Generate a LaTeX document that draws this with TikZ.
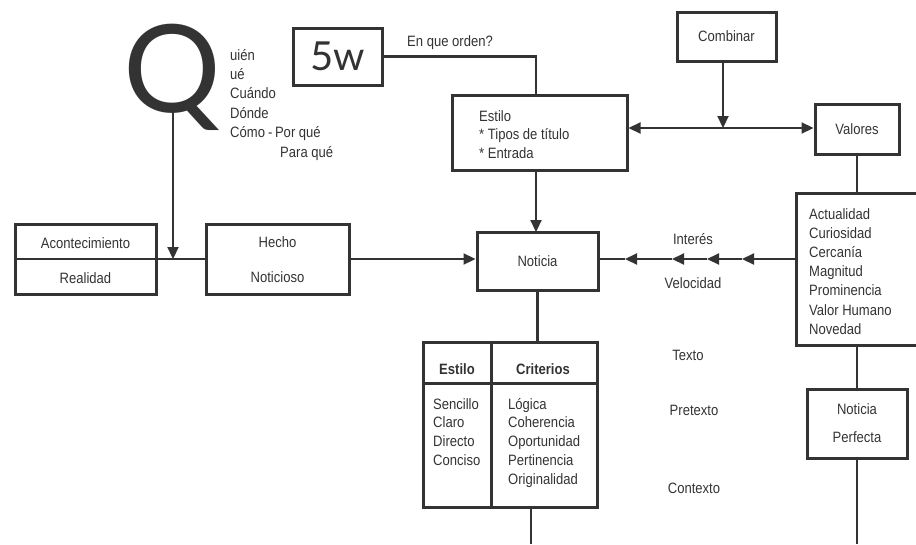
\documentclass[tikz,border=0pt]{standalone}
\usepackage{fontspec}
\setmainfont{Liberation Sans}[FakeStretch=0.87]
\newfontfamily\qfont{Lato}
\usetikzlibrary{arrows.meta}
\definecolor{dk}{RGB}{51,51,51}
\tikzset{
  box/.style={draw=dk, line width=3pt, inner sep=0pt},
  ln/.style={draw=dk, line width=2.2pt},
  arr/.style={ln, -{Triangle[length=12pt,width=11pt]}},
  txt/.style={text=dk, inner sep=0pt, font=\fontsize{15}{19}\selectfont},
}
\begin{document}
\begin{tikzpicture}[x=1pt,y=-1pt]
\useasboundingbox (0,0) rectangle (916,544);
% Q and question list
\node[text=dk, inner sep=0pt, anchor=base, font=\qfont\fontsize{122}{122}\selectfont] (Q) at (172,112) {Q};
\coordinate (qb) at (173,112);
\foreach \t [count=\i] in {uién,ué,Cuándo,Dónde,Cómo}
  \node[txt, anchor=base west] (q\i) at (230,{60+(\i-1)*19.4}) {\t};
\node[txt, anchor=base west] (pq) at (268,137.6) {-\,Por qué};
\node[txt, anchor=base west] (paq) at (280,157) {Para qué};
% 5w
\node[box, minimum width=89pt, minimum height=57pt, text=dk, font=\qfont\fontsize{40}{40}\selectfont] (fivew) at (337.5,56.5) {5w};
\node[txt] (orden) at (450,43) {En que orden?};
% Estilo box
\node[box, minimum width=175pt, minimum height=75pt] (estilo) at (539.5,132.5) {};
\node[txt, anchor=base west] (e1) at (479,121) {Estilo};
\node[txt, anchor=base west] (e2) at (479,139.5) {* Tipos de título};
\node[txt, anchor=base west] (e3) at (479,158) {* Entrada};
% Combinar, Valores
\node[box, minimum width=99pt, minimum height=49pt, txt] (combinar) at (726.5,36.5) {Combinar};
\node[box, minimum width=84pt, minimum height=50pt, txt] (valores) at (857,129) {Valores};
\coordinate (mid) at (723,128);
% values list
\node[box, minimum width=134pt, minimum height=152pt] (lista) at (863,269) {};
\foreach \t [count=\i] in {Actualidad,Curiosidad,Cercanía,Magnitud,Prominencia,Valor Humano,Novedad}
  \node[txt, anchor=base west] (v\i) at (809,{219+(\i-1)*19.2}) {\t};
% Acontecimiento / Hecho
\node[box, minimum width=141pt, minimum height=70pt] (acon) at (85.5,259) {};
\draw[ln] (acon.west) -- (acon.east);
\node[txt] (acon1) at (85.5,243) {Acontecimiento};
\node[txt] (acon2) at (85.5,278) {Realidad};
\node[box, minimum width=143pt, minimum height=70pt, txt, align=center, font=\fontsize{15}{35}\selectfont] (hecho) at (277.5,259.5) {Hecho\\Noticioso};
% Noticia
\node[box, minimum width=121pt, minimum height=58pt, txt] (noticia) at (537.5,261) {Noticia};
% side labels
\node[txt] (interes) at (693,239) {Interés};
\node[txt] (veloc) at (693,283) {Velocidad};
\node[txt] (texto) at (688,355) {Texto};
\node[txt] (pretexto) at (694,410) {Pretexto};
\node[txt] (contexto) at (694,488) {Contexto};
% table
\node[box, minimum width=174pt, minimum height=165pt] (tabla) at (510,424.5) {};
\coordinate (hd) at (491,383);
\draw[box] (tabla.west |- hd) -- (tabla.east |- hd);
\draw[box] (tabla.north -| hd) -- (tabla.south -| hd);
\node[txt, font=\fontsize{15}{19}\selectfont\bfseries] (th1) at (457,369) {Estilo};
\node[txt, font=\fontsize{15}{19}\selectfont\bfseries] (th2) at (543,369) {Criterios};
\foreach \t [count=\i] in {Sencillo,Claro,Directo,Conciso}
  \node[txt, anchor=base west] (s\i) at (433,{409+(\i-1)*18.8}) {\t};
\foreach \t [count=\i] in {Lógica,Coherencia,Oportunidad,Pertinencia,Originalidad}
  \node[txt, anchor=base west] (c\i) at (508,{409+(\i-1)*18.8}) {\t};
% Noticia perfecta
\node[box, minimum width=100pt, minimum height=69pt, txt, align=center, font=\fontsize{15}{28}\selectfont] (perfecta) at (857,423.5) {Noticia\\Perfecta};
% connectors
\draw[arr] (qb) -- (qb |- acon.east);
\draw[ln] (acon.east) -- (hecho.west |- acon.east);
\draw[arr] (hecho.west |- acon.east) ++(143pt,0) -- (noticia.west |- acon.east);
\draw[ln] (fivew.east) -| (536,95);
\draw[arr] (536,170) -- (536,232);
\draw[arr] (combinar.south -| mid) -- (mid);
\draw[arr] (mid) -- (mid -| estilo.east);
\draw[arr] (mid) -- (mid -| valores.west);
\draw[ln] (valores.south) -- (valores.south |- lista.north);
\coordinate (a1) at (742,259);
\coordinate (a2) at (707,259);
\coordinate (a3) at (672,259);
\coordinate (a4) at (625,259);
\draw[arr] (lista.west |- a1) -- (a1);
\draw[arr] (a1) -- (a2);
\draw[arr] (a2) -- (a3);
\draw[arr] (a3) -- (a4);
\draw[ln] (a4) -- (noticia.east |- a4);
\draw[ln] (noticia.south) -- (noticia.south |- tabla.north);
\coordinate (tb) at (531,544);
\draw[ln] (tabla.south -| tb) -- (tb);
\draw[ln] (perfecta.north |- lista.south) -- (perfecta.north);
\coordinate (pb) at (857,544);
\draw[ln] (perfecta.south) -- (pb);
\end{tikzpicture}
\end{document}
